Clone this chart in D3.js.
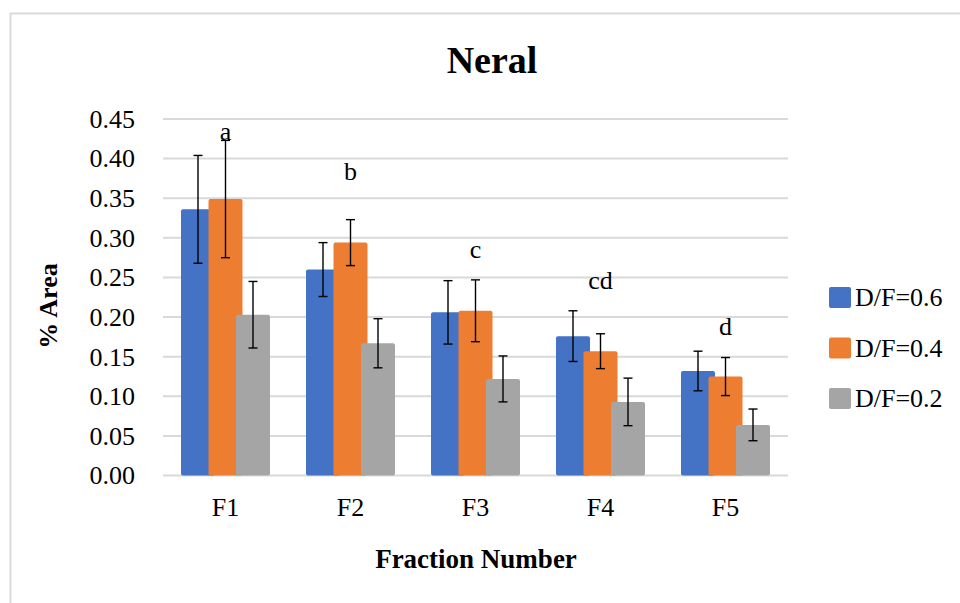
<!DOCTYPE html>
<html>
<head>
<meta charset="utf-8">
<title>Neral</title>
<script src="https://d3js.org/d3.v7.min.js"></script>
<style>
  body { margin: 0; background: #fff; }
  text { font-family: "Liberation Serif", "DejaVu Serif", serif; fill: #000; }
</style>
</head>
<body>
<div id="chart"></div>
<script>
// data
var fractions = ["F1", "F2", "F3", "F4", "F5"];
var seriesNames = ["D/F=0.6", "D/F=0.4", "D/F=0.2"];
var seriesColors = ["#4472C4", "#ED7D31", "#A5A5A5"];
var df06 = [0.336, 0.260, 0.206, 0.176, 0.132];
var df04 = [0.349, 0.294, 0.208, 0.157, 0.125];
var df02 = [0.203, 0.167, 0.122, 0.093, 0.064];
var err06 = [0.068, 0.034, 0.040, 0.032, 0.025];
var err04 = [0.074, 0.029, 0.039, 0.022, 0.024];
var err02 = [0.042, 0.031, 0.029, 0.030, 0.020];
var groupLetters = ["a", "b", "c", "cd", "d"];
var letterLevels = [0.424, 0.373, 0.274, 0.236, 0.177];
var yTicks = [0, 0.05, 0.10, 0.15, 0.20, 0.25, 0.30, 0.35, 0.40, 0.45];

var values = [df06, df04, df02];
var errors = [err06, err04, err02];

var width = 960, height = 603;
var plot = {left: 163, right: 788, top: 119, bottom: 475.6};
var barWidth = 34;

var svg = d3.select("#chart").append("svg")
    .attr("width", width)
    .attr("height", height);

// light frame round the chart
svg.append("rect")
    .attr("x", 10.5).attr("y", 13.5)
    .attr("width", 980).attr("height", 620)
    .attr("fill", "#fff")
    .attr("stroke", "#d9d9d9")
    .attr("stroke-width", 2);

var x0 = d3.scaleBand().domain(fractions).range([plot.left, plot.right]).padding(0);
var x1 = d3.scalePoint().domain(seriesNames).range([-27.5, 27.5]);
var y = d3.scaleLinear().domain([0, 0.45]).range([plot.bottom, plot.top]);

// gridlines
svg.append("g")
    .selectAll("line")
    .data(yTicks)
    .enter().append("line")
    .attr("x1", plot.left).attr("x2", plot.right)
    .attr("y1", function(d) { return y(d); })
    .attr("y2", function(d) { return y(d); })
    .attr("stroke", "#d9d9d9")
    .attr("stroke-width", 2);

// y axis labels
var yAxis = svg.append("g")
    .attr("transform", "translate(" + (plot.left - 28) + ",0)")
    .call(d3.axisLeft(y).tickValues(yTicks).tickFormat(d3.format(".2f")).tickSize(0).tickPadding(0));
yAxis.select(".domain").remove();
yAxis.selectAll("text")
    .style("font-family", "Liberation Serif, serif")
    .style("font-size", "26px")
    .attr("fill", "#000");

// x axis labels
var xAxis = svg.append("g")
    .attr("transform", "translate(0," + plot.bottom + ")")
    .call(d3.axisBottom(x0).tickSize(0).tickPadding(22));
xAxis.select(".domain").remove();
xAxis.selectAll("text")
    .style("font-family", "Liberation Serif, serif")
    .style("font-size", "26px")
    .attr("fill", "#000");

// bars, drawn series by series so later ones overlap earlier ones
seriesNames.forEach(function(s, si) {
    var g = svg.append("g");
    g.selectAll("rect")
        .data(fractions)
        .enter().append("rect")
        .attr("x", function(f) { return x0(f) + x0.bandwidth() / 2 + x1(s) - barWidth / 2; })
        .attr("y", function(f, i) { return y(values[si][i]); })
        .attr("width", barWidth)
        .attr("height", function(f, i) { return y(0) - y(values[si][i]); })
        .attr("rx", 2)
        .attr("fill", seriesColors[si]);
});

// error bars
seriesNames.forEach(function(s, si) {
    var g = svg.append("g").attr("stroke", "#000").attr("stroke-width", 1.4);
    fractions.forEach(function(f, i) {
        var cx = x0(f) + x0.bandwidth() / 2 + x1(s);
        var hi = y(values[si][i] + errors[si][i]);
        var lo = y(values[si][i] - errors[si][i]);
        g.append("line").attr("x1", cx).attr("x2", cx).attr("y1", hi).attr("y2", lo);
        g.append("line").attr("x1", cx - 4.5).attr("x2", cx + 4.5).attr("y1", hi).attr("y2", hi);
        g.append("line").attr("x1", cx - 4.5).attr("x2", cx + 4.5).attr("y1", lo).attr("y2", lo);
    });
});

// significance letters
svg.append("g")
    .selectAll("text")
    .data(fractions)
    .enter().append("text")
    .attr("x", function(f) { return x0(f) + x0.bandwidth() / 2; })
    .attr("y", function(f, i) { return y(letterLevels[i]); })
    .attr("text-anchor", "middle")
    .style("font-size", "26px")
    .text(function(f, i) { return groupLetters[i]; });

// title
svg.append("text")
    .attr("x", 492).attr("y", 73)
    .attr("text-anchor", "middle")
    .style("font-size", "38px")
    .style("font-weight", "bold")
    .text("Neral");

// axis titles
svg.append("text")
    .attr("x", 476).attr("y", 568)
    .attr("text-anchor", "middle")
    .style("font-size", "27px")
    .style("font-weight", "bold")
    .text("Fraction Number");

svg.append("text")
    .attr("transform", "translate(57,306) rotate(-90)")
    .attr("text-anchor", "middle")
    .style("font-size", "26px")
    .style("font-weight", "bold")
    .text("% Area");

// legend
var legend = svg.append("g")
    .selectAll("g")
    .data(seriesNames)
    .enter().append("g")
    .attr("transform", function(d, i) { return "translate(829," + (287 + i * 50.5) + ")"; });
legend.append("rect")
    .attr("width", 22).attr("height", 21)
    .attr("rx", 2)
    .attr("fill", function(d, i) { return seriesColors[i]; });
legend.append("text")
    .attr("x", 26).attr("y", 19)
    .style("font-size", "26px")
    .text(function(d) { return d; });
</script>
</body>
</html>
